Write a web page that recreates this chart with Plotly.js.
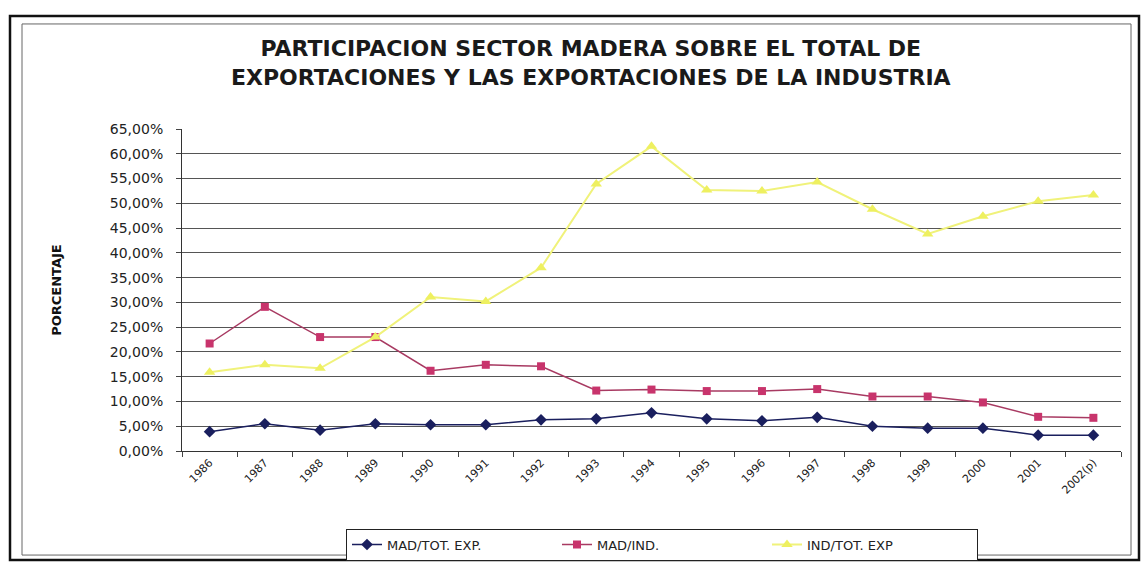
<!DOCTYPE html>
<html>
<head>
<meta charset="utf-8">
<script src="https://cdn.plot.ly/plotly-3.0.1.min.js"></script>
<style>
  html, body { margin: 0; padding: 0; background: #ffffff; }
  #chart { width: 1145px; height: 573px; }
</style>
</head>
<body>
<div id="chart"></div>
<script>
// Categories (years)
const years = ["1986", "1987", "1988", "1989", "1990", "1991", "1992", "1993", "1994",
               "1995", "1996", "1997", "1998", "1999", "2000", "2001", "2002(p)"];

// Series values (percent)
const madTotExp = [3.9, 5.5, 4.2, 5.5, 5.3, 5.3, 6.3, 6.5, 7.7, 6.5, 6.1, 6.8, 5.0, 4.6, 4.6, 3.2, 3.2];
const madInd    = [21.7, 29.1, 23.0, 23.0, 16.2, 17.4, 17.1, 12.2, 12.4, 12.1, 12.1, 12.5, 11.0, 11.0, 9.8, 6.9, 6.7];
const indTotExp = [15.9, 17.4, 16.7, 23.0, 31.1, 30.2, 37.0, 53.9, 61.5, 52.7, 52.5, 54.3, 48.8, 43.8, 47.4, 50.4, 51.7];

// Y tick values and labels
const yTicks = [0, 5, 10, 15, 20, 25, 30, 35, 40, 45, 50, 55, 60, 65];
const yTickLabels = ["0,00%", "5,00%", "10,00%", "15,00%", "20,00%", "25,00%", "30,00%",
                     "35,00%", "40,00%", "45,00%", "50,00%", "55,00%", "60,00%", "65,00%"];

const traces = [
  {
    x: years, y: madTotExp, name: "MAD/TOT. EXP.", type: "scatter", mode: "lines+markers",
    line: { color: "#1a1f5e", width: 1.5 },
    marker: { symbol: "diamond", size: 9, color: "#1a1f5e" }
  },
  {
    x: years, y: madInd, name: "MAD/IND.", type: "scatter", mode: "lines+markers",
    line: { color: "#a83a62", width: 1.5 },
    marker: { symbol: "square", size: 8, color: "#c8346c" }
  },
  {
    x: years, y: indTotExp, name: "IND/TOT. EXP", type: "scatter", mode: "lines+markers",
    line: { color: "#f0f27a", width: 2 },
    marker: { symbol: "triangle-up", size: 10, color: "#eef060" }
  }
];

// plot area geometry helpers (paper coords)
const L = 182, R = 24, T = 129, B = 116;
const PW = 1145 - L - R, PH = 573 - T - B;
const px = v => (v - L) / PW;
const py = v => (573 - B - v) / PH;

const layout = {
  width: 1145, height: 573,
  margin: { l: L, r: R, t: T, b: B },
  paper_bgcolor: "#ffffff",
  plot_bgcolor: "#ffffff",
  showlegend: true,
  title: {
    text: "PARTICIPACION SECTOR MADERA SOBRE EL TOTAL DE<br>EXPORTACIONES Y LAS EXPORTACIONES DE LA INDUSTRIA",
    font: { family: "DejaVu Sans, Arial, sans-serif", size: 22, color: "#1a1a1a", weight: "bold" },
    x: 0.516, xanchor: "center",
    y: 1 - 56 / 573, yanchor: "middle"
  },
  xaxis: {
    type: "category",
    tickangle: -45,
    tickson: "boundaries",
    ticks: "outside", ticklen: 5, tickcolor: "#444",
    showline: true, linecolor: "#333", linewidth: 1,
    showgrid: false,
    tickfont: { family: "DejaVu Sans, Arial, sans-serif", size: 11, color: "#222" },
    range: [-0.5, 16.5],
    fixedrange: true
  },
  yaxis: {
    range: [0, 65],
    tickmode: "array",
    tickvals: yTicks,
    ticktext: yTickLabels,
    ticks: "outside", ticklen: 5, tickcolor: "#444",
    ticklabelstandoff: 10,
    showline: true, linecolor: "#333", linewidth: 1,
    showgrid: true, gridcolor: "#555", gridwidth: 1,
    zeroline: false,
    tickfont: { family: "DejaVu Sans, Arial, sans-serif", size: 14, color: "#222" },
    title: {
      text: "PORCENTAJE",
      font: { family: "DejaVu Sans, Arial, sans-serif", size: 13, color: "#111", weight: "bold" },
      standoff: 45
    },
    fixedrange: true
  },
  legend: {
    orientation: "h",
    x: px(662), xanchor: "center",
    y: py(536), yanchor: "top",
    bgcolor: "#ffffff",
    bordercolor: "#222", borderwidth: 1,
    font: { family: "DejaVu Sans, Arial, sans-serif", size: 13, color: "#222" },
    entrywidth: 165,
    traceorder: "normal"
  },
  shapes: [
    { type: "rect", xref: "paper", yref: "paper",
      x0: px(10), x1: px(1139), y0: py(568), y1: py(14),
      line: { color: "#111", width: 2.5 }, fillcolor: "rgba(0,0,0,0)", layer: "below" },
    { type: "rect", xref: "paper", yref: "paper",
      x0: px(22), x1: px(1131), y0: py(563), y1: py(22),
      line: { color: "#666", width: 1 }, fillcolor: "rgba(0,0,0,0)", layer: "below" }
  ]
};

Plotly.newPlot("chart", traces, layout, { displayModeBar: false, staticPlot: true });
</script>
</body>
</html>
